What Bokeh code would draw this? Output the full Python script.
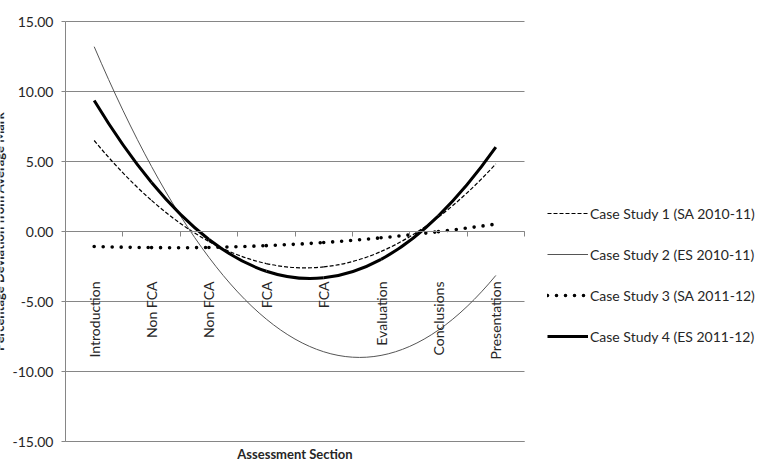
import math

from bokeh.embed import file_html
from bokeh.models import (ColumnDataSource, FixedTicker, Legend, LegendItem,
                          LinearAxis, NumeralTickFormatter, Range1d)
from bokeh.plotting import figure
from bokeh.resources import INLINE

# Assessment sections along the category axis
sections = ["Introduction", "Non FCA", "Non FCA", "FCA", "FCA",
            "Evaluation", "Conclusions", "Presentation"]

# Percentage deviation from the average mark, per section
case1 = [6.50, 2.22, -0.71, -2.29, -2.53, -1.43, 1.03, 4.83]
case2 = [13.20, 4.64, -1.85, -6.26, -8.59, -8.85, -7.04, -3.14]
case3 = [-1.07, -1.15, -1.14, -1.01, -0.79, -0.45, -0.01, 0.53]
case4 = [9.36, 3.50, -0.57, -2.84, -3.31, -1.99, 1.12, 6.02]

series_names = ["Case Study 1 (SA 2010-11)", "Case Study 2 (ES 2010-11)",
                "Case Study 3 (SA 2011-12)", "Case Study 4 (ES 2011-12)"]

y_ticks = [-15, -10, -5, 0, 5, 10, 15]

FONT = "Lato"
GRID = "#868686"
TEXT = "#262626"

W, H = 757, 466
PLOT_L, PLOT_R, PLOT_T, PLOT_B = 65, 524, 21, 441   # plot area in pixels

positions = list(range(1, len(sections) + 1))
boundaries = [p - 0.5 for p in positions] + [positions[-1] + 0.5]
x_lo, x_hi = positions[0] - 0.5, positions[-1] + 0.5
y_lo, y_hi = y_ticks[0], y_ticks[-1]

# the frame spans the whole canvas; ranges are widened so that the
# plot area keeps its place and the legend / titles sit inside the frame
px_x = (PLOT_R - PLOT_L) / (x_hi - x_lo)
px_y = (PLOT_B - PLOT_T) / (y_hi - y_lo)
x_range = Range1d(x_lo - PLOT_L / px_x, x_hi + (W - PLOT_R) / px_x)
y_range = Range1d(y_lo - (H - PLOT_B) / px_y, y_hi + PLOT_T / px_y)


def smooth_segments(xs, ys):
    """Cubic Bezier pieces through the points (Hermite tangents from differences)."""
    n = len(xs)

    def tangent(v, i):
        if i == 0:
            return (-3 * v[0] + 4 * v[1] - v[2]) / 2
        if i == n - 1:
            return (3 * v[-1] - 4 * v[-2] + v[-3]) / 2
        return (v[i + 1] - v[i - 1]) / 2

    tx = [tangent(xs, i) for i in range(n)]
    ty = [tangent(ys, i) for i in range(n)]
    return dict(
        x0=xs[:-1], y0=ys[:-1], x1=xs[1:], y1=ys[1:],
        cx0=[xs[i] + tx[i] / 3 for i in range(n - 1)],
        cy0=[ys[i] + ty[i] / 3 for i in range(n - 1)],
        cx1=[xs[i + 1] - tx[i + 1] / 3 for i in range(n - 1)],
        cy1=[ys[i + 1] - ty[i + 1] / 3 for i in range(n - 1)],
    )


p = figure(width=W, height=H, output_backend="svg", toolbar_location=None,
           x_range=x_range, y_range=y_range,
           x_axis_location=None, y_axis_location=None,
           min_border=0)
p.outline_line_color = None
p.background_fill_color = "white"
p.border_fill_color = "white"
p.grid.visible = False

# horizontal gridlines across the plot area only
p.segment(x0=x_lo, x1=x_hi, y0=y_ticks, y1=y_ticks,
          line_color=GRID, line_width=1, level="underlay")

# value axis
yax = LinearAxis(
    fixed_location=x_lo, bounds=(y_lo, y_hi),
    ticker=FixedTicker(ticks=y_ticks), formatter=NumeralTickFormatter(format="0.00"),
    axis_line_color=GRID, major_tick_line_color=GRID, major_tick_in=0, major_tick_out=4,
    minor_tick_line_color=None, major_label_standoff=8,
    major_label_text_font=FONT, major_label_text_font_size="14px",
    major_label_text_color=TEXT,
    axis_label="Percentage Deviation from Average Mark", axis_label_standoff=3,
    axis_label_text_font=FONT, axis_label_text_font_style="bold",
    axis_label_text_font_size="13px", axis_label_text_color=TEXT,
)
p.add_layout(yax, "left")

# bottom axis line with the section title
xax = LinearAxis(
    fixed_location=y_lo, bounds=(x_lo, x_hi), ticker=FixedTicker(ticks=[]),
    axis_line_color=GRID, major_tick_line_color=None, minor_tick_line_color=None,
    major_tick_out=0, major_label_standoff=0,
    axis_label="Assessment Section", axis_label_standoff=4,
    axis_label_text_font=FONT, axis_label_text_font_style="bold",
    axis_label_text_font_size="13px", axis_label_text_color=TEXT,
)
p.add_layout(xax, "below")

# category axis crossing at zero
cat_axis = LinearAxis(
    fixed_location=0, bounds=(x_lo, x_hi),
    ticker=FixedTicker(ticks=positions, minor_ticks=boundaries),
    major_label_overrides={pos: s for pos, s in zip(positions, sections)},
    major_label_orientation=math.pi / 2,
    major_tick_line_color=None, major_tick_in=0, major_tick_out=0,
    minor_tick_line_color=GRID, minor_tick_in=0, minor_tick_out=5,
    axis_line_color=GRID,
    major_label_standoff=45,
    major_label_text_font=FONT, major_label_text_font_size="14px",
    major_label_text_color=TEXT,
)
p.add_layout(cat_axis, "below")

styles = [
    dict(line_color="black", line_width=1.2, line_dash="4 2"),
    dict(line_color="#555555", line_width=1),
    dict(line_color="black", line_width=3.6, line_dash="0 9", line_cap="round"),
    dict(line_color="black", line_width=3),
]

renderers = []
for vals, style in zip([case1, case2, case3, case4], styles):
    src = ColumnDataSource(smooth_segments(positions, vals))
    r = p.bezier(x0="x0", y0="y0", x1="x1", y1="y1",
                 cx0="cx0", cy0="cy0", cx1="cx1", cy1="cy1",
                 source=src, **style)
    renderers.append(r)

legend = Legend(
    items=[LegendItem(label=n, renderers=[r]) for n, r in zip(series_names, renderers)],
    location=(547, 120), glyph_width=41, glyph_height=20, label_height=20,
    spacing=21, padding=0, margin=0, label_standoff=2,
    border_line_color=None, background_fill_alpha=0,
    label_text_font=FONT, label_text_font_size="14px", label_text_color=TEXT,
)
p.add_layout(legend)

open("out.html", "w").write(file_html(p, INLINE))
